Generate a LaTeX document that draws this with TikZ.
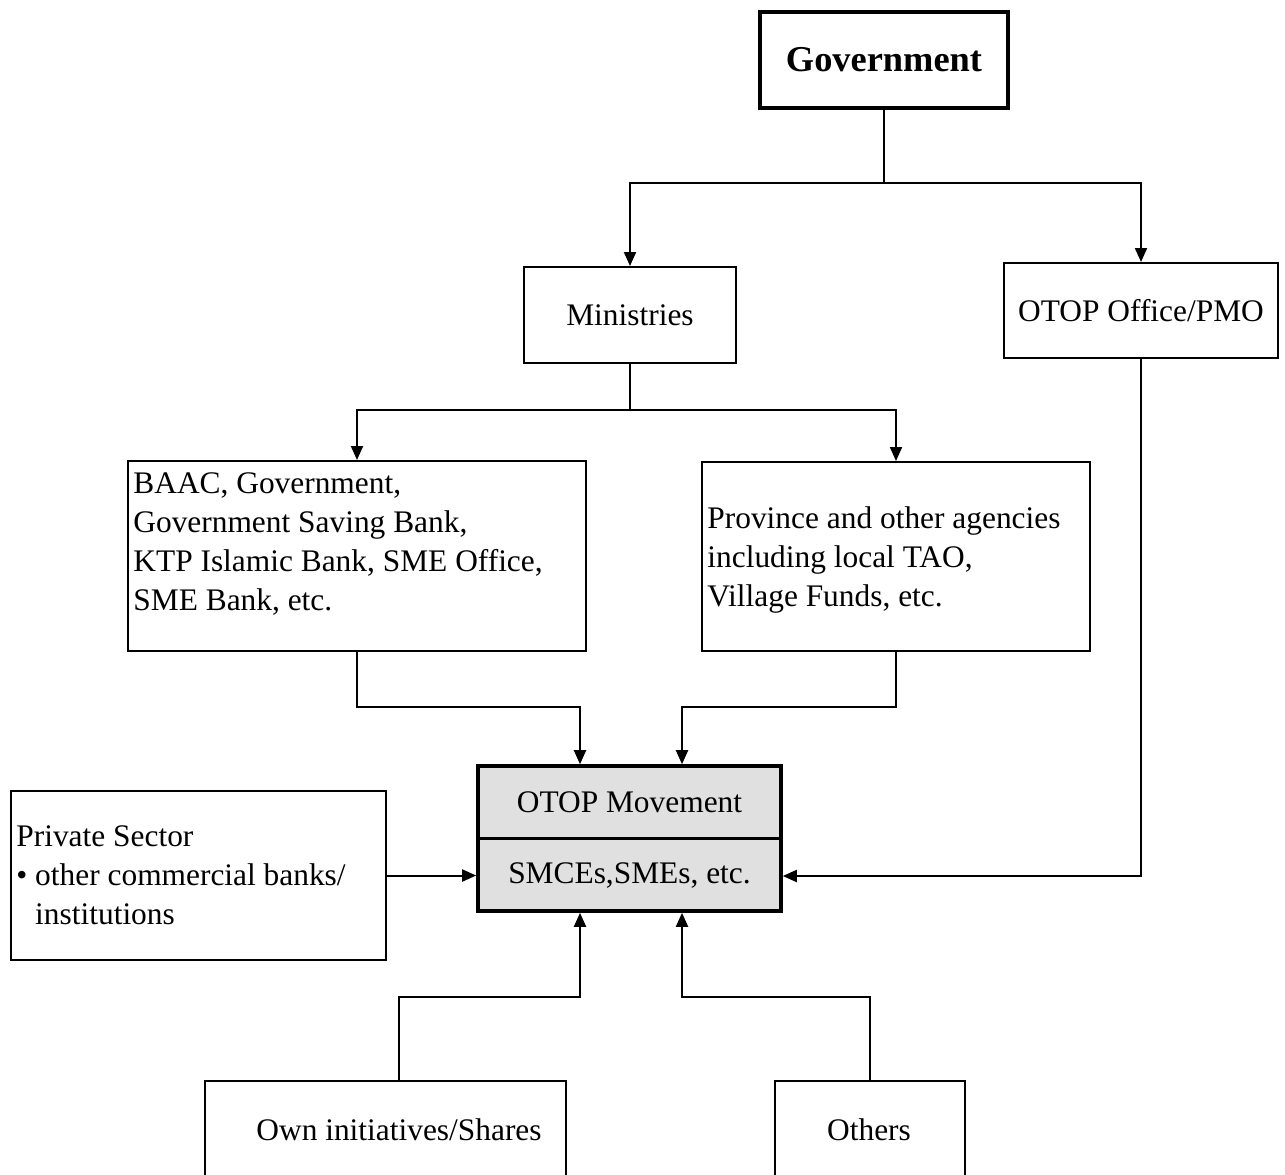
\documentclass[tikz,border=0pt]{standalone}
\usepackage{fontspec}
\setmainfont{Liberation Serif}
\usetikzlibrary{arrows.meta}
\begin{document}
\begin{tikzpicture}[x=0.5pt,y=-0.5pt,line join=miter,
	>={Triangle[length=7pt,width=6pt]},
	font=\fontsize{15.7}{19.5}\selectfont,
	box/.style={draw,line width=1pt,inner sep=0pt},
	thickbox/.style={draw,line width=1.8pt,inner sep=0pt},
	txt/.style={inner sep=0pt,align=left},
	arr/.style={->,line width=1pt}]
	\useasboundingbox (0,0) rectangle (1285,1174);
	% hop
	\path 
	(884,60) node[thickbox,minimum width=124pt,minimum height=48pt,font=\fontsize{18.2}{22}\selectfont\bfseries] (gov) {Government}
	(630,315) node[box,minimum width=106pt,minimum height=48pt] (min) {Ministries}
	(1141,310.5) node[box,minimum width=137pt,minimum height=47.5pt] (pmo) {OTOP Office/PMO}
	(357,556) node[box,minimum width=229pt,minimum height=95pt] (baac) {}
	(896,556.5) node[box,minimum width=194pt,minimum height=94.5pt] (prov) {}
	(629.5,838.5) node[thickbox,fill=black!12,minimum width=151.5pt,minimum height=72.5pt] (otop) {}
	(629.5,802) node (otopT) {OTOP Movement}
	(629.5,876) node (otopB) {SMCEs,SMEs, etc.}
	(198.5,875.5) node[box,minimum width=187.5pt,minimum height=84.5pt] (priv) {}
	(385.5,1140.5) node[box,minimum width=180.5pt,minimum height=59.5pt] (own) {}
	(399,1130) node (ownT) {Own initiatives/Shares}
	(870,1140.5) node[box,minimum width=95pt,minimum height=59.5pt] (oth) {}
	(869,1130) node (othT) {Others};
	\node[txt,anchor=north west] (baacT) at ([shift={(3pt,-6pt)}]baac.north west) {BAAC, Government,\\Government Saving Bank,\\KTP Islamic Bank, SME Office,\\SME Bank, etc.};
	\node[txt,anchor=north west] (provT) at ([shift={(3pt,-22.5pt)}]prov.north west) {Province and other agencies\\including local TAO,\\Village Funds, etc.};
	\node[txt,anchor=west] (privT) at ([xshift=3pt]priv.west) {Private Sector\\\textbullet\ other commercial banks/\\\phantom{\textbullet\ }institutions};
	\draw[line width=1.8pt] (otop.west) -- (otop.east);
	% diem re nhanh
	\coordinate (gsplit) at (884,183);
	\coordinate (msplit) at (630,410);
	\coordinate (inL) at (580,707);
	\coordinate (inR) at (682,707);
	\coordinate (upL) at (580,997);
	\coordinate (upR) at (682,997);
	\draw[line width=1pt] (gov) -- (gsplit);
	\draw[arr] (gsplit) -| (min);
	\draw[arr] (gsplit) -| (pmo);
	\draw[line width=1pt] (min) -- (msplit);
	\draw[arr] (msplit) -| (baac);
	\draw[arr] (msplit) -| (prov);
	\draw[arr] (baac) |- (inL) -- (inL |- otop.north);
	\draw[arr] (prov) |- (inR) -- (inR |- otop.north);
	\draw[arr] (priv.east) -- (priv.east -| otop.west);
	\draw[arr] (pmo) |- (otopB -| otop.east);
	\draw[arr] (ownT |- own.north) |- (upL) -- (upL |- otop.south);
	\draw[arr] (oth) |- (upR) -- (upR |- otop.south);
\end{tikzpicture}
\end{document}
